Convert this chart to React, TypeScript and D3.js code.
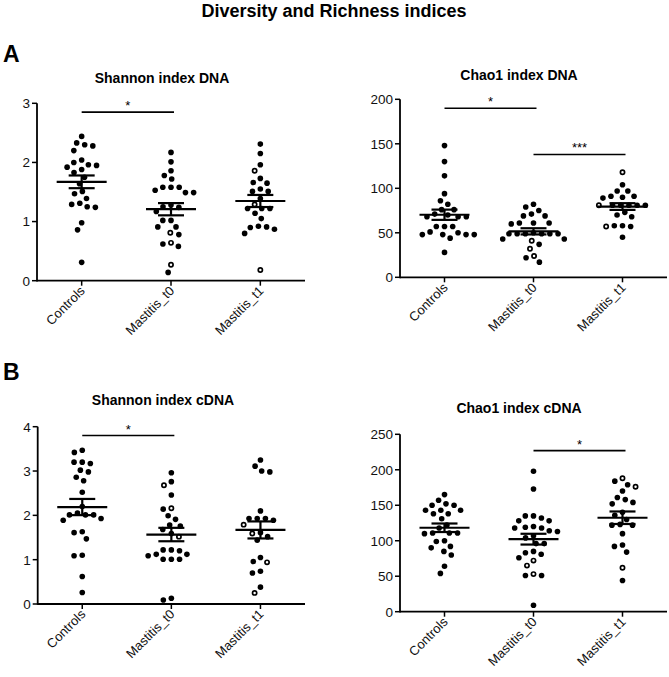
import React from "react";
import * as d3 from "d3";

const categories = ["Controls", "Mastitis_t0", "Mastitis_t1"];
const chartTitle = "Diversity and Richness indices";
const panelTitles = ["Shannon index DNA", "Chao1 index DNA", "Shannon index cDNA", "Chao1 index cDNA"];
const rowLetters = ["A", "B"];

// Shannon index DNA
const shDnaControls = [2.44, 2.33, 2.28, 2.3, 2.2, 1.95, 2.0, 2.04, 1.96, 1.92, 1.88, 1.83, 1.75, 1.64, 1.47, 1.39, 1.51, 1.29, 1.24, 1.25, 1.31, 0.98, 0.86, 0.31];
const shDnaControlsOpen: number[] = [];
const shDnaT0 = [2.17, 2.01, 1.86, 1.78, 1.72, 1.58, 1.58, 1.49, 1.49, 1.53, 1.58, 1.25, 1.24, 1.28, 1.17, 1.02, 1.02, 0.91, 0.91, 0.78, 0.62, 0.58, 0.14];
const shDnaT0Open = [0.81, 0.64, 0.27];
const shDnaT1 = [2.31, 2.15, 1.96, 1.73, 1.65, 1.66, 1.51, 1.51, 1.55, 1.39, 1.22, 1.22, 1.22, 1.14, 1.05, 0.92, 0.91, 0.87, 0.9, 0.8];
const shDnaT1Open = [1.86, 1.29, 0.18];

// Chao1 index DNA
const chDnaControls = [148, 130, 114, 94, 86, 82, 76, 76, 71, 68, 68, 68, 70, 57, 57, 57, 51, 48, 48, 48, 48, 50, 44, 28];
const chDnaControlsOpen: number[] = [];
const chDnaT0 = [82, 79, 75, 71, 69, 69, 61, 61, 61, 60, 50, 49, 49, 49, 49, 49, 49, 43, 43, 37, 22, 17];
const chDnaT0Open = [41, 32, 24];
const chDnaT1 = [104, 97, 97, 91, 89, 90, 91, 81, 81, 81, 81, 81, 73, 70, 68, 58, 57, 58, 45];
const chDnaT1Open = [118, 81, 57];

// Shannon index cDNA
const shCdnaControls = [3.47, 3.42, 3.2, 3.17, 3.2, 2.98, 3.02, 2.86, 2.78, 2.52, 2.2, 2.01, 2.01, 2.05, 2.01, 1.89, 1.93, 1.61, 1.63, 1.47, 1.09, 1.1, 0.62, 0.26];
const shCdnaControlsOpen: number[] = [];
const shCdnaT0 = [2.96, 2.76, 2.46, 2.14, 1.99, 1.91, 1.76, 1.78, 1.68, 1.59, 1.12, 1.09, 1.22, 1.2, 1.22, 1.01, 1.01, 1.01, 1.12, 0.09, 0.13];
const shCdnaT0Open = [2.68, 2.16, 1.52];
const shCdnaT1 = [3.25, 3.0, 2.98, 3.11, 2.1, 1.93, 1.93, 1.89, 1.93, 1.61, 1.44, 1.52, 1.05, 0.96, 0.74, 0.7, 0.38];
const shCdnaT1Open = [1.79, 1.59, 0.94, 0.25];

// Chao1 index cDNA
const chCdnaControls = [165, 152, 150, 150, 157, 143, 143, 138, 138, 143, 131, 122, 118, 110, 111, 111, 111, 100, 99, 92, 90, 85, 80, 64, 54];
const chCdnaControlsOpen: number[] = [];
const chCdnaT0 = [198, 173, 135, 132, 128, 128, 135, 120, 118, 113, 114, 118, 119, 104, 107, 96, 96, 85, 81, 76, 83, 51, 51, 9];
const chCdnaT0Open = [65, 72, 53];
const chCdnaT1 = [179, 184, 170, 158, 161, 152, 154, 140, 136, 130, 123, 122, 122, 110, 94, 92, 84, 44];
const chCdnaT1Open = [188, 176, 62];

// y-axis tick values
const shDnaTicks = [0, 1, 2, 3];
const chDnaTicks = [0, 50, 100, 150, 200];
const shCdnaTicks = [0, 1, 2, 3, 4];
const chCdnaTicks = [0, 50, 100, 150, 200, 250];

// significance brackets
const shDnaSig = [{ from: "Controls", to: "Mastitis_t0", value: 2.85, label: "*" }];
const chDnaSig = [
  { from: "Controls", to: "Mastitis_t0", value: 190, label: "*" },
  { from: "Mastitis_t0", to: "Mastitis_t1", value: 138, label: "***" },
];
const shCdnaSig = [{ from: "Controls", to: "Mastitis_t0", value: 3.8, label: "*" }];
const chCdnaSig = [{ from: "Mastitis_t0", to: "Mastitis_t1", value: 227, label: "*" }];

const FONT = "'Liberation Sans', Arial, Helvetica, sans-serif";

type Pt = { v: number; open: boolean; py: number; dx: number };

function swarm(filled: number[], open: number[], y: (v: number) => number, D: number): Pt[] {
  const items: Pt[] = [
    ...filled.map((v) => ({ v, open: false, py: y(v), dx: 0 })),
    ...open.map((v) => ({ v, open: true, py: y(v), dx: 0 })),
  ].sort((a, b) => a.py - b.py);
  const placed: Pt[] = [];
  for (const it of items) {
    const cands = [0];
    for (const p of placed) {
      const dy = Math.abs(p.py - it.py);
      if (dy < D) {
        const dx = Math.sqrt(D * D - dy * dy);
        cands.push(p.dx + dx, p.dx - dx);
      }
    }
    cands.sort((a, b) => Math.abs(a) - Math.abs(b) || a - b);
    for (const c of cands) {
      if (placed.every((p) => (p.dx - c) ** 2 + (p.py - it.py) ** 2 >= D * D - 1e-6)) {
        it.dx = c;
        break;
      }
    }
    placed.push(it);
  }
  return placed;
}

type PanelProps = {
  title: string;
  titleX: number;
  titleY: number;
  x0: number;
  x1: number;
  yTop: number;
  yBottom: number;
  domain: [number, number];
  ticks: number[];
  groups: { filled: number[]; open: number[] }[];
  sig: { from: string; to: string; value: number; label: string }[];
};

function Panel(p: PanelProps) {
  const x = d3.scalePoint<string>().domain(categories).range([p.x0, p.x1]).padding(0.5);
  const y = d3.scaleLinear().domain(p.domain).range([p.yBottom, p.yTop]);
  const r = 2.8;
  return (
    <g>
      <text x={p.titleX} y={p.titleY} textAnchor="middle" fontFamily={FONT} fontWeight="bold" fontSize={14}>
        {p.title}
      </text>
      {/* y axis */}
      <line x1={p.x0} x2={p.x0} y1={y(p.domain[1])} y2={p.yBottom + 0.9} stroke="#000" strokeWidth={1.8} />
      {p.ticks.map((t) => (
        <g key={t}>
          <line x1={p.x0 - 5} x2={p.x0} y1={y(t)} y2={y(t)} stroke="#000" strokeWidth={1.5} />
          <text x={p.x0 - 7} y={y(t)} dy="0.36em" textAnchor="end" fontFamily={FONT} fontSize={13.5} fill="#111">
            {t}
          </text>
        </g>
      ))}
      {/* x axis */}
      <line x1={p.x0} x2={p.x1} y1={p.yBottom} y2={p.yBottom} stroke="#000" strokeWidth={1.8} />
      {categories.map((c) => {
        const cx = x(c)!;
        return (
          <g key={c}>
            <line x1={cx} x2={cx} y1={p.yBottom} y2={p.yBottom + 5} stroke="#000" strokeWidth={1.5} />
            <text
              transform={`translate(${cx + 4},${p.yBottom + 11}) rotate(-45)`}
              textAnchor="end"
              fontFamily={FONT}
              fontSize={13}
              fill="#111"
            >
              {c}
            </text>
          </g>
        );
      })}
      {/* points */}
      {p.groups.map((g, gi) => {
        const cx = x(categories[gi])!;
        const pts = swarm(g.filled, g.open, y, 8.2);
        const all = [...g.filled, ...g.open];
        const m = d3.mean(all)!;
        const sem = d3.deviation(all)! / Math.sqrt(all.length);
        return (
          <g key={gi}>
            {pts.map((pt, i) =>
              pt.open ? (
                <circle key={i} cx={cx + pt.dx} cy={pt.py} r={2.1} fill="#fff" stroke="#000" strokeWidth={1.7} />
              ) : (
                <circle key={i} cx={cx + pt.dx} cy={pt.py} r={r} fill="#000" />
              )
            )}
            <line x1={cx - 25} x2={cx + 25} y1={y(m)} y2={y(m)} stroke="#000" strokeWidth={2.2} />
            <line x1={cx - 13} x2={cx + 13} y1={y(m + sem)} y2={y(m + sem)} stroke="#000" strokeWidth={2.2} />
            <line x1={cx - 13} x2={cx + 13} y1={y(m - sem)} y2={y(m - sem)} stroke="#000" strokeWidth={2.2} />
            <line x1={cx} x2={cx} y1={y(m + sem)} y2={y(m - sem)} stroke="#000" strokeWidth={2.2} />
          </g>
        );
      })}
      {/* significance */}
      {p.sig.map((s, i) => {
        const a = x(s.from)!;
        const b = x(s.to)! + 3;
        const yy = y(s.value);
        return (
          <g key={i}>
            <line x1={a} x2={b} y1={yy} y2={yy} stroke="#000" strokeWidth={1.6} />
            <text x={(a + b) / 2} y={yy - 2} textAnchor="middle" fontFamily={FONT} fontSize={13}>
              {s.label}
            </text>
          </g>
        );
      })}
    </g>
  );
}

export default function App() {
  return (
    <svg
      width={669}
      height={677}
      style={{ position: "absolute", left: 0, top: 0, background: "#fff" }}
    >
      <rect width={669} height={677} fill="#fff" />
      <text x={334} y={17} textAnchor="middle" fontFamily={FONT} fontWeight="bold" fontSize={18}>
        {chartTitle}
      </text>
      <text x={3} y={62} fontFamily={FONT} fontWeight="bold" fontSize={23}>
        {rowLetters[0]}
      </text>
      <text x={3} y={380} fontFamily={FONT} fontWeight="bold" fontSize={23}>
        {rowLetters[1]}
      </text>
      <Panel
        title={panelTitles[0]}
        titleX={162}
        titleY={83}
        x0={37}
        x1={305}
        yTop={103.3}
        yBottom={280.7}
        domain={[0, 3]}
        ticks={shDnaTicks}
        groups={[
          { filled: shDnaControls, open: shDnaControlsOpen },
          { filled: shDnaT0, open: shDnaT0Open },
          { filled: shDnaT1, open: shDnaT1Open },
        ]}
        sig={shDnaSig}
      />
      <Panel
        title={panelTitles[1]}
        titleX={519}
        titleY={80}
        x0={400}
        x1={667}
        yTop={99.3}
        yBottom={277.3}
        domain={[0, 200]}
        ticks={chDnaTicks}
        groups={[
          { filled: chDnaControls, open: chDnaControlsOpen },
          { filled: chDnaT0, open: chDnaT0Open },
          { filled: chDnaT1, open: chDnaT1Open },
        ]}
        sig={chDnaSig}
      />
      <Panel
        title={panelTitles[2]}
        titleX={163}
        titleY={405}
        x0={37.7}
        x1={305}
        yTop={426.7}
        yBottom={604}
        domain={[0, 4]}
        ticks={shCdnaTicks}
        groups={[
          { filled: shCdnaControls, open: shCdnaControlsOpen },
          { filled: shCdnaT0, open: shCdnaT0Open },
          { filled: shCdnaT1, open: shCdnaT1Open },
        ]}
        sig={shCdnaSig}
      />
      <Panel
        title={panelTitles[3]}
        titleX={519}
        titleY={413}
        x0={400}
        x1={667}
        yTop={434.3}
        yBottom={611.7}
        domain={[0, 250]}
        ticks={chCdnaTicks}
        groups={[
          { filled: chCdnaControls, open: chCdnaControlsOpen },
          { filled: chCdnaT0, open: chCdnaT0Open },
          { filled: chCdnaT1, open: chCdnaT1Open },
        ]}
        sig={chCdnaSig}
      />
    </svg>
  );
}
